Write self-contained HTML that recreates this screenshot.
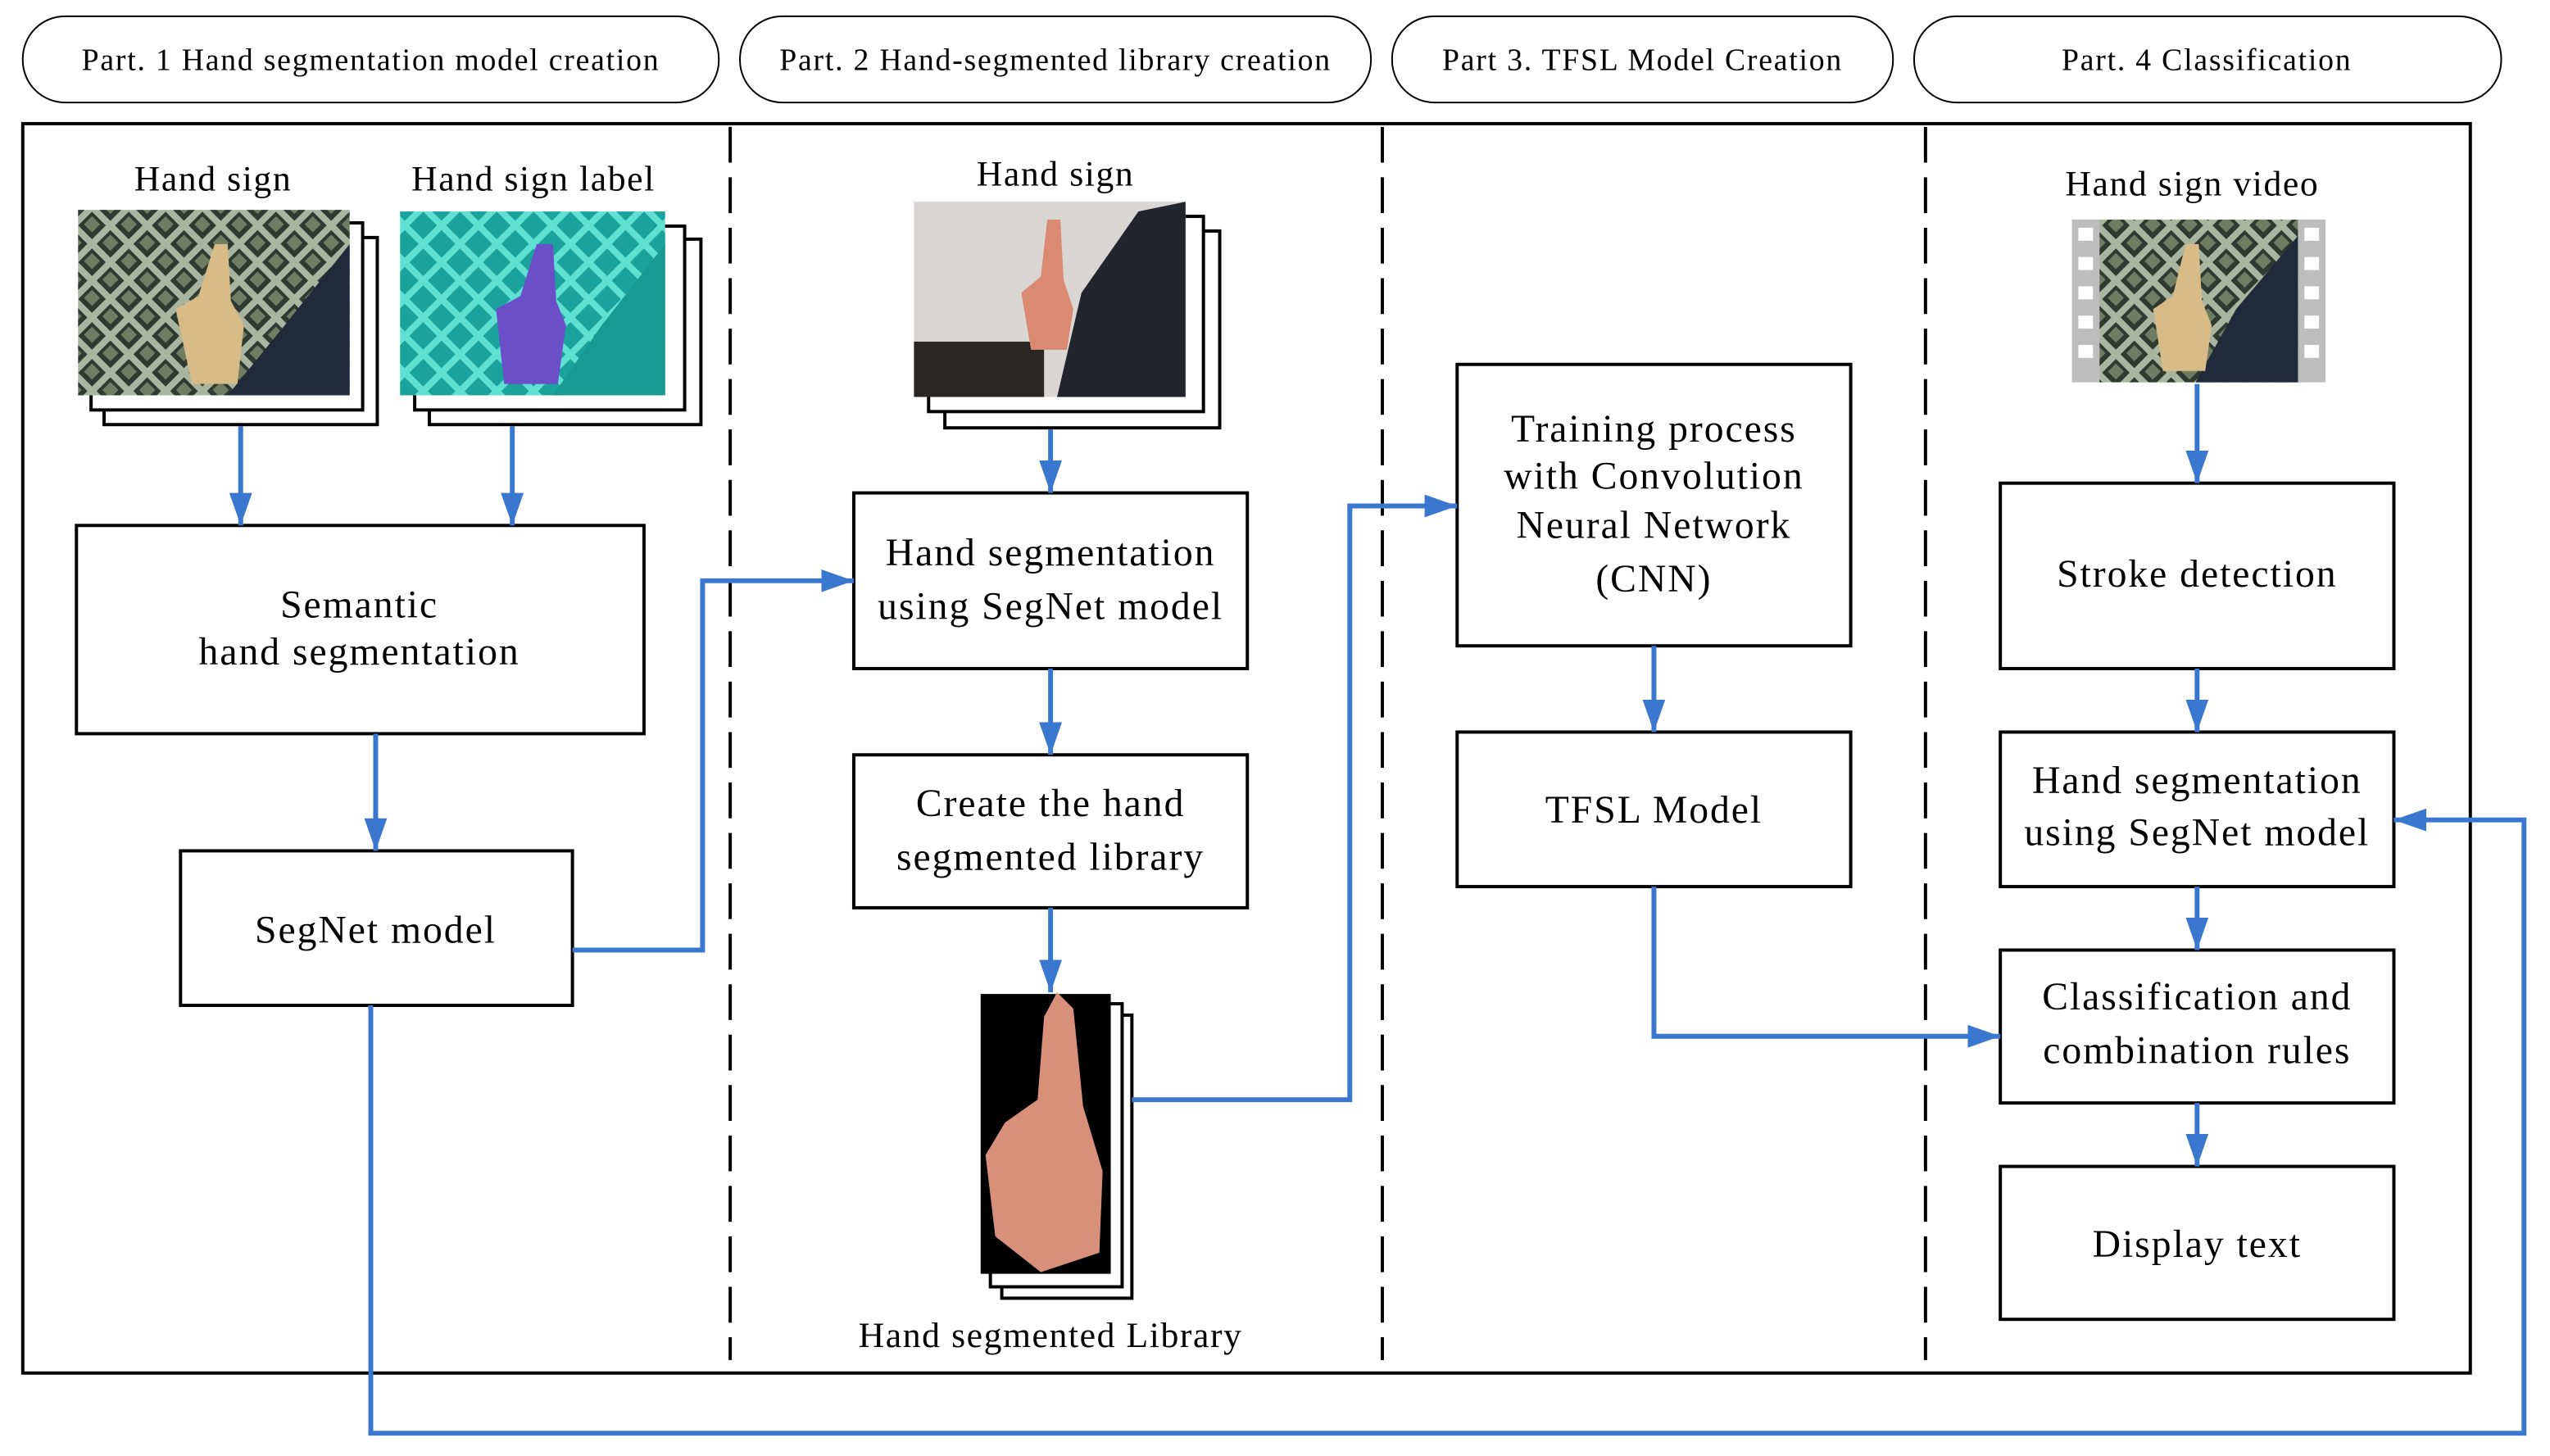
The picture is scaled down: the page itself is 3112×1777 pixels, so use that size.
<!DOCTYPE html>
<html><head><meta charset="utf-8"><style>
html,body{margin:0;padding:0;background:#fff;}
svg{display:block;}
text{font-family:"Liberation Serif",serif;fill:#000;}
</style></head><body>
<svg width="3112" height="1777" viewBox="0 0 1568 895" preserveAspectRatio="none" xmlns="http://www.w3.org/2000/svg">
<defs>
<pattern id="lat" width="16" height="16" patternUnits="userSpaceOnUse" patternTransform="rotate(45)">
<rect width="16" height="16" fill="#2f3a30"/><rect width="16" height="4" fill="#a9b59e"/><rect width="4" height="16" fill="#a9b59e"/>
<rect x="6" y="6" width="7" height="7" fill="#6f7d63"/>
</pattern>
<pattern id="latT" width="16" height="16" patternUnits="userSpaceOnUse" patternTransform="rotate(45)">
<rect width="16" height="16" fill="#1aa39c"/><rect width="16" height="4" fill="#5fe0d2"/><rect width="4" height="16" fill="#5fe0d2"/>
</pattern>
<marker id="ah" viewBox="0 0 20 14" refX="20" refY="7" markerWidth="20" markerHeight="14" markerUnits="userSpaceOnUse" orient="auto">
<path d="M0,0 L20,7 L0,14 Z" fill="#3a78cf"/>
</marker>
</defs>

<!-- pills -->
<g fill="none" stroke="#000" stroke-width="1">
<rect x="14" y="10" width="428" height="53" rx="26"/>
<rect x="455" y="10" width="388" height="53" rx="26"/>
<rect x="856" y="10" width="308" height="53" rx="26"/>
<rect x="1177" y="10" width="361" height="53" rx="26"/>
</g>
<g font-size="19" letter-spacing="0.9" text-anchor="middle" dominant-baseline="central">
<text x="228" y="37">Part. 1 Hand segmentation model creation</text>
<text x="649" y="37">Part. 2 Hand-segmented library creation</text>
<text x="1010" y="37">Part 3. TFSL Model Creation</text>
<text x="1357" y="37">Part. 4 Classification</text>
</g>

<!-- frame -->
<rect x="14" y="76" width="1505" height="768" fill="none" stroke="#000" stroke-width="2"/>
<g stroke="#000" stroke-width="2" stroke-dasharray="22 9">
<line x1="449" y1="78" x2="449" y2="836"/>
<line x1="850" y1="78" x2="850" y2="836"/>
<line x1="1184" y1="78" x2="1184" y2="836"/>
</g>

<!-- image stacks -->
<g fill="#fff" stroke="#000" stroke-width="2">
<rect x="64" y="146" width="168" height="115"/><rect x="56" y="137" width="167" height="115"/>
<rect x="264" y="147" width="167" height="114"/><rect x="255" y="139" width="166" height="113"/>
<rect x="581" y="142" width="169" height="121"/><rect x="571" y="133" width="169" height="120"/>
<rect x="616" y="624" width="80" height="174"/><rect x="609" y="617" width="81" height="174"/>
</g>
<!-- image 1 -->
<rect x="48" y="129" width="167" height="114" fill="url(#lat)"/>
<path d="M215,150 L215,243 L140,243 L175,200 Z" fill="#1f2a3a"/>
<path d="M118,236 L108,190 L122,182 L132,150 L140,150 L142,185 L150,200 L146,236 Z" fill="#d8bb86"/>
<!-- image 2 -->
<rect x="246" y="130" width="163" height="113" fill="url(#latT)"/>
<path d="M409,150 L409,243 L340,243 L370,200 Z" fill="#169a93"/>
<path d="M310,236 L305,190 L320,182 L330,150 L340,150 L342,185 L348,200 L343,236 Z" fill="#6a4fc9"/>
<!-- image 3 -->
<rect x="562" y="124" width="167" height="120" fill="#d9d6d3"/>
<rect x="562" y="210" width="80" height="34" fill="#2a2624"/>
<path d="M729,124 L729,244 L650,244 L665,180 L700,130 Z" fill="#22252c"/>
<path d="M634,215 L628,180 L640,170 L644,135 L652,135 L654,172 L660,190 L656,215 Z" fill="#d98a70"/>
<!-- image 4 library -->
<rect x="603" y="611" width="80" height="172" fill="#000"/>
<path d="M612,760 L606,710 L618,690 L638,676 L642,625 L650,610 L660,620 L666,680 L678,720 L676,770 L640,782 Z" fill="#d9907a"/>
<!-- video -->
<rect x="1274" y="135" width="156" height="100" fill="#bdbdbd"/>
<rect x="1291" y="135" width="122" height="100" fill="url(#lat)"/>
<path d="M1413,145 L1413,235 L1350,235 L1375,190 Z" fill="#1f2a3a"/>
<path d="M1330,228 L1324,190 L1336,182 L1344,150 L1352,150 L1354,185 L1360,200 L1356,228 Z" fill="#d8bb86"/>
<g fill="#fff">
<rect x="1278" y="140" width="9" height="8"/><rect x="1278" y="158" width="9" height="8"/><rect x="1278" y="176" width="9" height="8"/><rect x="1278" y="194" width="9" height="8"/><rect x="1278" y="212" width="9" height="8"/>
<rect x="1417" y="140" width="9" height="8"/><rect x="1417" y="158" width="9" height="8"/><rect x="1417" y="176" width="9" height="8"/><rect x="1417" y="194" width="9" height="8"/><rect x="1417" y="212" width="9" height="8"/>
</g>

<!-- boxes -->
<g fill="#fff" stroke="#000" stroke-width="2">
<rect x="47" y="323" width="349" height="128"/>
<rect x="111" y="523" width="241" height="95"/>
<rect x="525" y="303" width="242" height="108"/>
<rect x="525" y="464" width="242" height="94"/>
<rect x="896" y="224" width="242" height="173"/>
<rect x="896" y="450" width="242" height="95"/>
<rect x="1230" y="297" width="242" height="114"/>
<rect x="1230" y="450" width="242" height="95"/>
<rect x="1230" y="584" width="242" height="94"/>
<rect x="1230" y="717" width="242" height="94"/>
</g>

<!-- labels -->
<g font-size="22" letter-spacing="0.8" text-anchor="middle" dominant-baseline="central">
<text x="131" y="110">Hand sign</text>
<text x="328" y="110">Hand sign label</text>
<text x="649" y="107">Hand sign</text>
<text x="1348" y="113">Hand sign video</text>
<text x="646" y="821">Hand segmented Library</text>
</g>
<g font-size="24" letter-spacing="1" text-anchor="middle" dominant-baseline="central">
<text x="221" y="372">Semantic</text>
<text x="221" y="401">hand segmentation</text>
<text x="231" y="572">SegNet model</text>
<text x="646" y="340">Hand segmentation</text>
<text x="646" y="373">using SegNet model</text>
<text x="646" y="494">Create the hand</text>
<text x="646" y="527">segmented library</text>
<text x="1017" y="264">Training process</text>
<text x="1017" y="293">with Convolution</text>
<text x="1017" y="323">Neural Network</text>
<text x="1017" y="356">(CNN)</text>
<text x="1017" y="498">TFSL Model</text>
<text x="1351" y="353">Stroke detection</text>
<text x="1351" y="480">Hand segmentation</text>
<text x="1351" y="512">using SegNet model</text>
<text x="1351" y="613">Classification and</text>
<text x="1351" y="646">combination rules</text>
<text x="1351" y="765">Display text</text>
</g>

<!-- connectors -->
<g fill="none" stroke="#3a78cf" stroke-width="3" marker-end="url(#ah)">
<line x1="148" y1="262" x2="148" y2="323"/>
<line x1="315" y1="262" x2="315" y2="323"/>
<line x1="231" y1="451" x2="231" y2="523"/>
<polyline points="352,584 432,584 432,357 525,357"/>
<polyline points="228,618 228,881 1552,881 1552,504 1472,504"/>
<line x1="646" y1="264" x2="646" y2="303"/>
<line x1="646" y1="411" x2="646" y2="464"/>
<line x1="646" y1="558" x2="646" y2="610"/>
<polyline points="696,676 830,676 830,311 896,311"/>
<line x1="1017" y1="397" x2="1017" y2="450"/>
<polyline points="1017,545 1017,637 1230,637"/>
<line x1="1351" y1="236" x2="1351" y2="297"/>
<line x1="1351" y1="411" x2="1351" y2="450"/>
<line x1="1351" y1="545" x2="1351" y2="584"/>
<line x1="1351" y1="678" x2="1351" y2="717"/>
</g>
</svg>
</body></html>
